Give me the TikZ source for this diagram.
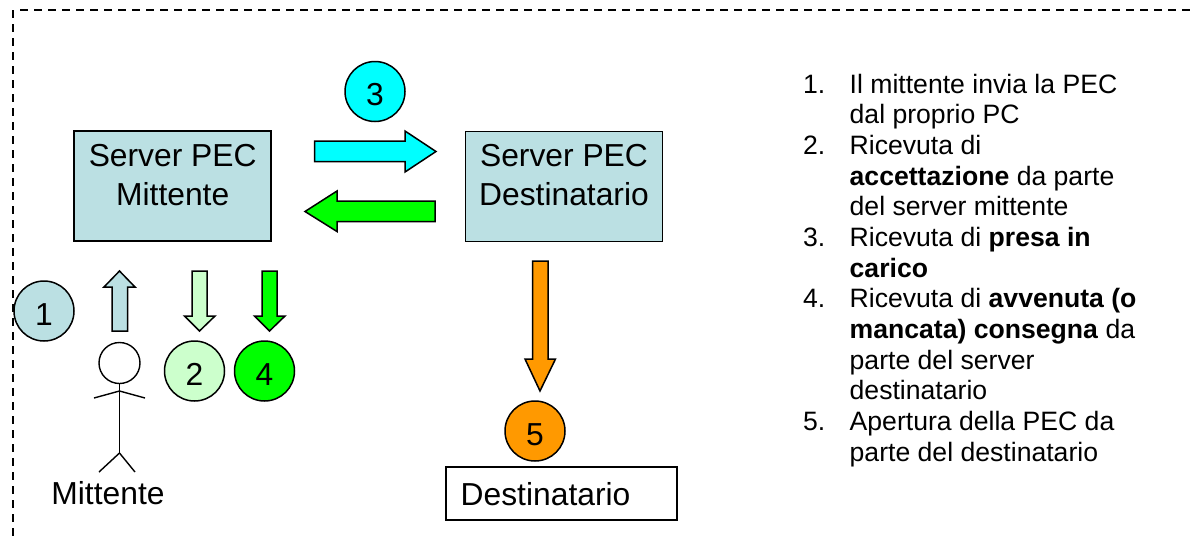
\documentclass[tikz,border=0pt]{standalone}
\usepackage{fontspec}
\setmainfont{Liberation Sans}
\definecolor{boxblue}{HTML}{BBE0E3}
\definecolor{lightgreen}{HTML}{CCFFCC}
\definecolor{purecyan}{HTML}{00FFFF}
\definecolor{puregreen}{HTML}{00FF00}
\definecolor{orangefill}{HTML}{FF9900}
\newcommand{\bigfont}{\fontsize{31.8}{38.3}\selectfont}
\newcommand{\listfont}{\fontsize{26.6}{30.7}\selectfont}
\tikzset{
  frameline/.style={line width=1.3pt,dash pattern=on 8pt off 6pt},
  serverbox/.style={draw,line width=1.5pt,fill=boxblue,minimum width=197pt,minimum height=110pt,inner sep=0pt},
  plainbox/.style={draw,line width=1.5pt,fill=white,minimum width=231pt,minimum height=53pt,inner sep=0pt},
  boxtext/.style={font=\bigfont,align=center,inner sep=0pt},
  numdisc/.style={draw,circle,line width=1.5pt,minimum size=60pt,inner sep=0pt,font=\bigfont,text height=28.5pt,text depth=0pt},
  blockarrow/.style={draw,line width=1.5pt,line join=miter},
  figure/.style={line width=1.4pt},
  bigtext/.style={font=\bigfont,inner sep=0pt,anchor=base},
  listnum/.style={font=\listfont,inner sep=0pt,anchor=base west},
  listline/.style={font=\listfont,inner sep=0pt,anchor=base west},
}
\begin{document}
\begin{tikzpicture}[x=1pt,y=-1pt]
\useasboundingbox (0,0) rectangle (1195,542);
% dashed frame
\coordinate (corner) at (13,10);
\coordinate (frametop) at (20,10);
\coordinate (frameright) at (1195,10);
\coordinate (framebottom) at (13,537);
\draw[frameline] (frametop) -- (frameright);
\draw[frameline] (corner) -- (framebottom);
% servers
\node[serverbox] (srvm) at (172.5,186) {};
\node[serverbox] (srvd) at (564,186.5) {};
\node[boxtext,anchor=base] (srvmt) at (172.7,166.7) {Server PEC};
\node[boxtext,anchor=base] (srvmu) at (172.7,205) {Mittente};
\node[boxtext,anchor=base] (srvdt) at (564,166.7) {Server PEC};
\node[boxtext,anchor=base] (srvdu) at (564,205) {Destinatario};
% recipient box
\node[plainbox] (dest) at (561.5,493.5) {};
\node[bigtext,anchor=base west] (destt) at (460.5,505) {Destinatario};
% discs
\node[numdisc,fill=boxblue] (n1) at (44,311) {1};
\node[numdisc,fill=lightgreen] (n2) at (194.5,371) {2};
\node[numdisc,fill=puregreen] (n4) at (264.5,371) {4};
\node[numdisc,fill=purecyan] (n3) at (375,91.5) {3};
\node[numdisc,fill=orangefill] (n5) at (535,431) {5};
% block arrows
\draw[blockarrow,fill=boxblue] (112,331) -- (112,287) -- (104,287) -- (119.5,271) -- (135,287) -- (127.5,287) -- (127.5,331) -- cycle;
\draw[blockarrow,fill=lightgreen] (192,271) -- (192,316) -- (184.5,316) -- (199.5,331) -- (215,316) -- (207,316) -- (207,271) -- cycle;
\draw[blockarrow,fill=puregreen] (262,271) -- (262,316) -- (254.5,316) -- (269.5,331) -- (285,316) -- (277,316) -- (277,271) -- cycle;
\draw[blockarrow,fill=purecyan] (314.5,141) -- (405,141) -- (405,131) -- (436,151.5) -- (405,172) -- (405,161.5) -- (314.5,161.5) -- cycle;
\draw[blockarrow,fill=puregreen] (435,201) -- (337,201) -- (337,191) -- (305,211.5) -- (337,231.5) -- (337,221.5) -- (435,221.5) -- cycle;
\draw[blockarrow,fill=orangefill] (532.5,261) -- (532.5,359) -- (525,359) -- (540,391) -- (555.5,359) -- (548,359) -- (548,261) -- cycle;
% stick figure
\draw[figure] (119.5,363) circle[radius=20.5pt];
\draw[figure] (119.5,384) -- (119.5,453);
\draw[figure] (94,398) -- (119.5,391) -- (145,398);
\draw[figure] (99,472) -- (119.5,453) -- (135,472);
\node[bigtext] (mitt) at (108,504) {Mittente};
% list
\node[listnum] (l1) at (803,93) {1.};
\node[listline] (l1a) at (849.5,93) {Il mittente invia la PEC};
\node[listline] (l1b) at (849.5,123.7) {dal proprio PC};
\node[listnum] (l2) at (803,154.3) {2.};
\node[listline] (l2a) at (849.5,154.3) {Ricevuta di};
\node[listline] (l2b) at (849.5,185) {\textbf{accettazione} da parte};
\node[listline] (l2c) at (849.5,215.7) {del server mittente};
\node[listnum] (l3) at (803,246.3) {3.};
\node[listline] (l3a) at (849.5,246.3) {Ricevuta di \textbf{presa in}};
\node[listline] (l3b) at (849.5,277) {\textbf{carico}};
\node[listnum] (l4) at (803,307.7) {4.};
\node[listline] (l4a) at (849.5,307.7) {Ricevuta di \textbf{avvenuta (o}};
\node[listline] (l4b) at (849.5,338.3) {\textbf{mancata) consegna} da};
\node[listline] (l4c) at (849.5,369) {parte del server};
\node[listline] (l4d) at (849.5,399.7) {destinatario};
\node[listnum] (l5) at (803,430.3) {5.};
\node[listline] (l5a) at (849.5,430.3) {Apertura della PEC da};
\node[listline] (l5b) at (849.5,461) {parte del destinatario};
\end{tikzpicture}
\end{document}
